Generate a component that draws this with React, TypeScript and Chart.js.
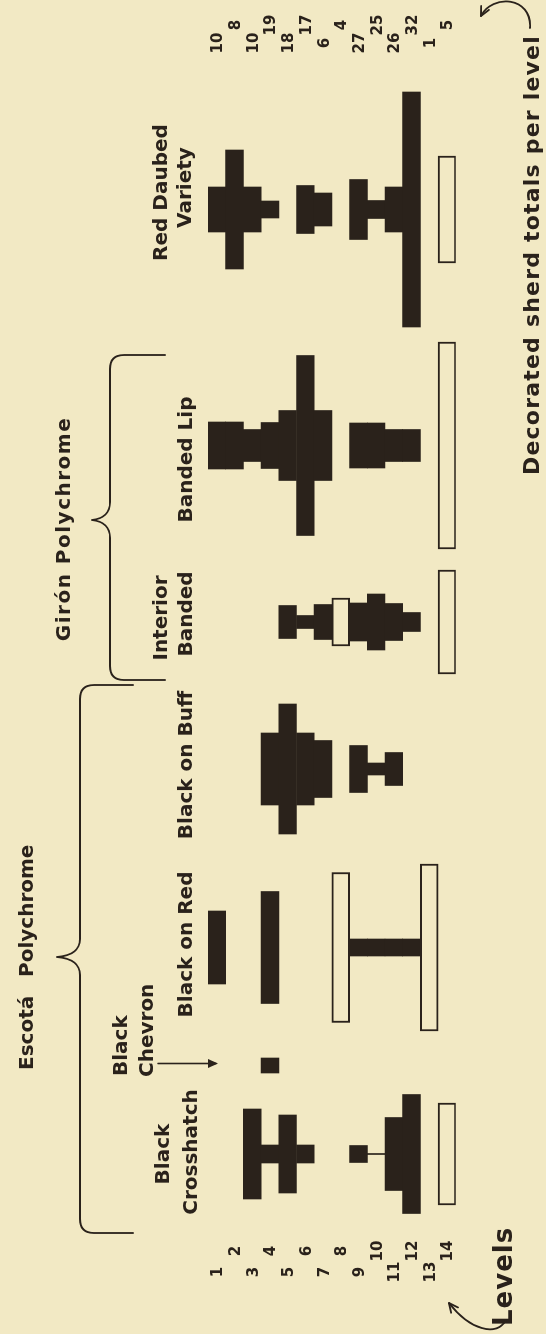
import React, { useEffect, useRef } from 'react';
import { Chart, registerables } from 'chart.js';

Chart.register(...registerables);

// ---------------- data ----------------
const levels = ['1', '2', '3', '4', '5', '6', '7', '8', '9', '10', '11', '12', '13', '14'];
const sherdTotals = [10, 8, 10, 19, 18, 17, 6, 4, 27, 25, 26, 32, 1, 5];

// relative frequency per level (bar width); 0 = absent. "Open" = small-sample levels (hollow bars)
const blackCrosshatch = [0, 0, 45, 9, 39, 9, 0, 0, 8.5, 0.5, 36.5, 59.5, 0, 0];
const blackCrosshatchOpen = [0, 0, 0, 0, 0, 0, 0, 0, 0, 0, 0, 0, 0, 51];
const blackChevron = [0, 0, 0, 7.5, 0, 0, 0, 0, 0, 0, 0, 0, 0, 0];
const blackOnRed = [36.5, 0, 0, 56, 0, 0, 0, 0, 8.5, 8.5, 8.5, 8.5, 0, 0];
const blackOnRedOpen = [0, 0, 0, 0, 0, 0, 0, 75, 0, 0, 0, 0, 83.5, 0];
const blackOnBuff = [0, 0, 0, 36, 65, 36, 28.5, 0, 23.5, 6, 16.5, 0, 0, 0];
const interiorBanded = [0, 0, 0, 0, 16.5, 6.5, 17.5, 0, 19, 28, 18.5, 9.5, 0, 0];
const interiorBandedOpen = [0, 0, 0, 0, 0, 0, 0, 24, 0, 0, 0, 0, 0, 52];
const bandedLip = [23.5, 23.5, 16, 23, 35, 90, 35, 0, 22.5, 22.5, 16, 16, 0, 0];
const bandedLipOpen = [0, 0, 0, 0, 0, 0, 0, 0, 0, 0, 0, 0, 0, 103.5];
const redDaubed = [22.5, 59.5, 22.5, 8.5, 0, 24, 16.5, 0, 30, 9, 22.5, 117.5, 0, 0];
const redDaubedOpen = [0, 0, 0, 0, 0, 0, 0, 0, 0, 0, 0, 0, 0, 53.5];

// ---------------- layout / style ----------------
const W = 1334; // drawn unrotated, then turned -90deg
const H = 546;
const X_MAX = 667;
const BG = '#f2e9c4';
const INK = '#2a221b';
const FONT = '"DejaVu Sans", "Liberation Sans", sans-serif';
const PLOT_TOP = 208;
const PLOT_BOTTOM = 455.8;

const columns = [
  { name: 'Black Crosshatch', center: 90, solid: blackCrosshatch, open: blackCrosshatchOpen },
  { name: 'Black Chevron', center: 134.25, solid: blackChevron, open: null },
  { name: 'Black on Red', center: 193.25, solid: blackOnRed, open: blackOnRedOpen },
  { name: 'Black on Buff', center: 282.5, solid: blackOnBuff, open: null },
  { name: 'Interior Banded', center: 356, solid: interiorBanded, open: interiorBandedOpen },
  { name: 'Banded Lip', center: 444.25, solid: bandedLip, open: bandedLipOpen },
  { name: 'Red Daubed Variety', center: 562.25, solid: redDaubed, open: redDaubedOpen },
];

const toFloating = (vals: number[], c: number) =>
  vals.map((w) => (w > 0 ? [c - w / 2, c + w / 2] : null));

function drawText(ctx: CanvasRenderingContext2D, s: string, u: number, v: number, align: CanvasTextAlign, font: string, spacing = 0) {
  ctx.font = font;
  (ctx as any).letterSpacing = spacing + 'px';
  ctx.textAlign = align;
  ctx.textBaseline = 'alphabetic';
  ctx.fillText(s, u, v);
  (ctx as any).letterSpacing = '0px';
}

function drawBrace(ctx: CanvasRenderingContext2D, u0: number, u1: number, vLine: number, vEnd: number, tipU: number, tipV: number) {
  const r = 14;
  ctx.beginPath();
  ctx.moveTo(u0, vEnd);
  ctx.lineTo(u0, vLine + r);
  ctx.quadraticCurveTo(u0, vLine, u0 + r, vLine);
  ctx.lineTo(tipU - 18, vLine);
  ctx.quadraticCurveTo(tipU - 2, vLine, tipU, tipV);
  ctx.quadraticCurveTo(tipU + 2, vLine, tipU + 18, vLine);
  ctx.lineTo(u1 - r, vLine);
  ctx.quadraticCurveTo(u1, vLine, u1, vLine + r);
  ctx.lineTo(u1, vEnd);
  ctx.stroke();
}

function arrowHead(ctx: CanvasRenderingContext2D, x: number, y: number, dx: number, dy: number, len: number) {
  const a = Math.atan2(dy, dx);
  ctx.beginPath();
  ctx.moveTo(x - len * Math.cos(a - 0.45), y - len * Math.sin(a - 0.45));
  ctx.lineTo(x, y);
  ctx.lineTo(x - len * Math.cos(a + 0.45), y - len * Math.sin(a + 0.45));
  ctx.stroke();
}

const annotations = {
  id: 'annotations',
  beforeDraw(chart: any) {
    const ctx = chart.ctx;
    ctx.save();
    ctx.fillStyle = BG;
    ctx.fillRect(0, 0, chart.width, chart.height);
    ctx.restore();
  },
  afterDraw(chart: any) {
    const ctx: CanvasRenderingContext2D = chart.ctx;
    const xs = chart.scales.x;
    const ys = chart.scales.y;
    const cx = (i: number) => xs.getPixelForValue(columns[i].center);
    const f20 = `bold 20px ${FONT}`;
    ctx.save();
    ctx.fillStyle = INK;
    ctx.strokeStyle = INK;
    ctx.lineCap = 'round';
    ctx.lineJoin = 'round';

    // level numbers (staggered) and sherd totals (staggered)
    levels.forEach((lab, i) => {
      const v = ys.getPixelForValue(i) + 5.5;
      drawText(ctx, lab, i % 2 === 0 ? 62 : 83, v, 'center', `bold 15px ${FONT}`);
      drawText(ctx, String(sherdTotals[i]), i % 2 === 0 ? 1291 : 1309, v, 'center', `bold 15px ${FONT}`);
    });

    // column labels
    drawText(ctx, 'Black', cx(0), 169, 'center', f20);
    drawText(ctx, 'Crosshatch', cx(0) + 2, 197, 'center', f20);
    drawText(ctx, 'Black', 258, 127, 'left', f20);
    drawText(ctx, 'Chevron', 257, 153, 'left', f20);
    drawText(ctx, 'Black on Red', cx(2) + 3, 192, 'center', f20);
    drawText(ctx, 'Black on Buff', cx(3) + 4, 192, 'center', f20);
    drawText(ctx, 'Interior', cx(4) + 4, 167, 'center', f20);
    drawText(ctx, 'Banded', cx(4) + 8, 192, 'center', f20);
    drawText(ctx, 'Banded Lip', cx(5) - 14, 192, 'center', f20);
    drawText(ctx, 'Red Daubed', cx(6) + 17, 167, 'center', f20);
    drawText(ctx, 'Variety', cx(6) + 22, 191, 'center', f20);

    // chevron arrow
    ctx.lineWidth = 1.6;
    ctx.beginPath();
    ctx.moveTo(cx(1) + 2, 158);
    ctx.lineTo(cx(1) + 2, 216);
    ctx.stroke();
    ctx.beginPath();
    ctx.moveTo(cx(1) + 2, 218);
    ctx.lineTo(cx(1) - 2.5, 208);
    ctx.lineTo(cx(1) + 6.5, 208);
    ctx.closePath();
    ctx.fill();

    // group labels + braces
    drawText(ctx, 'Escotá', 264, 33, 'left', f20);
    drawText(ctx, 'Polychrome', 357, 33, 'left', f20);
    drawText(ctx, 'Girón Polychrome', 805, 70, 'center', f20, 1.5);
    ctx.lineWidth = 1.8;
    drawBrace(ctx, 101, 649, 80, 133, 377, 57);
    drawBrace(ctx, 654, 979, 110, 165, 814, 92);

    // axis captions with curved arrows
    drawText(ctx, 'Levels', 8, 512, 'left', `bold 26px ${FONT}`, 1);
    ctx.lineWidth = 1.8;
    ctx.beginPath();
    ctx.moveTo(14, 506);
    ctx.bezierCurveTo(-3, 496, 4, 470, 31, 449);
    ctx.stroke();
    arrowHead(ctx, 31, 449, 27, -21, 10);

    drawText(ctx, 'Decorated sherd totals per level', 859, 539, 'left', `bold 22px ${FONT}`, 1.2);
    ctx.beginPath();
    ctx.moveTo(1306, 530);
    ctx.bezierCurveTo(1338, 532, 1340, 492, 1318, 481);
    ctx.stroke();
    arrowHead(ctx, 1318, 481, -22, -11, 10);

    ctx.restore();
  },
};

export default function App() {
  const ref = useRef<HTMLCanvasElement>(null);

  useEffect(() => {
    const canvas = ref.current;
    if (!canvas) return;
    const datasets: any[] = [];
    columns.forEach((col) => {
      datasets.push({
        label: col.name,
        data: toFloating(col.solid, col.center),
        backgroundColor: INK,
        borderWidth: 0,
        grouped: false,
        categoryPercentage: 1,
        barPercentage: 1,
        order: 1,
      });
      if (col.open) {
        datasets.push({
          label: col.name + ' (small sample)',
          data: toFloating(col.open, col.center),
          backgroundColor: BG,
          borderColor: INK,
          borderWidth: 2,
          borderSkipped: false,
          grouped: false,
          categoryPercentage: 1,
          barPercentage: 1,
          order: 0,
        });
      }
    });

    const chart = new Chart(canvas, {
      type: 'bar',
      data: { labels: levels, datasets },
      options: {
        indexAxis: 'y',
        animation: false,
        responsive: false,
        devicePixelRatio: 1,
        layout: { padding: { top: PLOT_TOP, bottom: H - PLOT_BOTTOM, left: 0, right: 0 } },
        scales: {
          x: { type: 'linear', min: 0, max: X_MAX, display: false },
          y: { type: 'category', display: false, offset: true },
        },
        plugins: {
          legend: { display: false },
          tooltip: { enabled: false },
          title: { display: false },
        },
      },
      plugins: [annotations],
    } as any);
    return () => chart.destroy();
  }, []);

  return (
    <div
      style={{
        position: 'absolute',
        left: 0,
        top: 0,
        width: 546,
        height: 1334,
        overflow: 'hidden',
        background: BG,
      }}
    >
      <canvas
        ref={ref}
        width={W}
        height={H}
        style={{
          position: 'absolute',
          left: 0,
          top: 0,
          width: W,
          height: H,
          transformOrigin: '0 0',
          transform: `translateY(${W}px) rotate(-90deg)`,
        }}
      />
    </div>
  );
}
